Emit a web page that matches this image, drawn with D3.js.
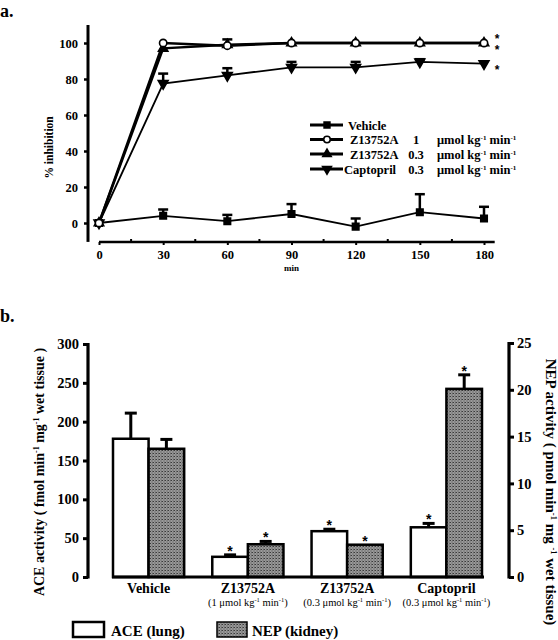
<!DOCTYPE html>
<html><head><meta charset="utf-8">
<script src="https://cdn.jsdelivr.net/npm/d3@7"></script>
<style>
body{margin:0;background:#fff;}
svg{display:block;font-family:"Liberation Serif","Times New Roman",serif;}
</style></head>
<body><svg id="c" width="558" height="640"></svg>
<script>
// ---- Panel a data ----
const timePoints = [0, 30, 60, 90, 120, 150, 180];
const vehicle    = [0, 4, 1, 5, -2, 6, 2.5];
const vehicleErr = [0, 3.5, 3.5, 5.5, 4.5, 10, 6.5];
const z1         = [0, 100, 98.5, 100, 100, 100, 100];
const z1Err      = [0, 0, 3.5, 0, 0, 0, 0];
const z03        = [0, 97, 99, 100, 100, 100, 100];
const z03Err     = [0, 0, 0, 0, 0, 0, 0];
const capt       = [0, 77.5, 82, 86.5, 86.5, 89.5, 88.5];
const captErr    = [0, 5.5, 4, 3, 3, 1.5, 0];
const yTicksA    = [0, 20, 40, 60, 80, 100];
const xTicksA    = [0, 30, 60, 90, 120, 150, 180];
const seriesNames = ["Vehicle", "Z13752A", "Z13752A", "Captopril"];
const seriesDoses = ["", "1", "0.3", "0.3"];

// ---- Panel b data ----
const categories = ["Vehicle", "Z13752A", "Z13752A", "Captopril"];
const subLabels  = ["", "1", "0.3", "0.3"];
const ace        = [178, 26, 59, 64];
const aceErr     = [33, 2.5, 2.5, 5];
const aceSig     = [false, true, true, true];
const nep        = [13.7, 3.5, 3.45, 20.1];
const nepErr     = [1.0, 0.3, 0, 1.5];
const nepSig     = [false, true, true, true];
const yTicksL    = [0, 50, 100, 150, 200, 250, 300];
const yTicksR    = [0, 5, 10, 15, 20, 25];

const svg = d3.select("#c");
const defs = svg.append("defs");
const pat = defs.append("pattern").attr("id","hatch").attr("patternUnits","userSpaceOnUse")
  .attr("width",3).attr("height",3);
pat.append("rect").attr("width",3).attr("height",3).attr("fill","#9a9a9a");
pat.append("rect").attr("x",0).attr("y",0).attr("width",1).attr("height",1).attr("fill","#3a3a3a");
pat.append("rect").attr("x",1.5).attr("y",1.5).attr("width",1).attr("height",1).attr("fill","#4a4a4a");
pat.append("rect").attr("x",2).attr("y",0).attr("width",1).attr("height",1).attr("fill","#666");

// panel labels
svg.append("text").attr("x",0).attr("y",17).attr("font-size",18).attr("font-weight","bold").text("a.");
svg.append("text").attr("x",0).attr("y",322).attr("font-size",18).attr("font-weight","bold").text("b.");

// ================= Panel a =================
const xA = d3.scaleLinear().domain([0,180]).range([99,484]);
const yA = d3.scaleLinear().domain([0,100]).range([223,43]);
const gA = svg.append("g");

gA.append("line").attr("x1",88).attr("x2",88).attr("y1",yA(110)).attr("y2",yA(-10.5))
  .attr("stroke","#000").attr("stroke-width",3);
const yAxA = d3.axisLeft(yA).tickValues(yTicksA).tickSize(4).tickPadding(6);
const gyA = gA.append("g").attr("transform","translate(88,0)").call(yAxA);
gyA.select(".domain").remove();
gyA.selectAll(".tick line").attr("stroke-width",2.5);
gyA.selectAll("text").attr("font-size",12.5).attr("font-weight","bold").attr("font-family","Liberation Serif");

const xAxisY = 242;
gA.append("line").attr("x1",xA(0)).attr("x2",xA(185)).attr("y1",xAxisY).attr("y2",xAxisY)
  .attr("stroke","#000").attr("stroke-width",2.5);
const xAxA = d3.axisBottom(xA).tickValues(xTicksA).tickSize(3).tickPadding(5);
const gxA = gA.append("g").attr("transform",`translate(0,${xAxisY})`).call(xAxA);
gxA.select(".domain").remove();
gxA.selectAll(".tick line").attr("stroke-width",2);
gxA.selectAll("text").attr("font-size",12.5).attr("font-weight","bold").attr("font-family","Liberation Serif");
gA.selectAll(".minor").data(d3.range(15,181,30)).enter().append("line")
  .attr("x1",d=>xA(d)).attr("x2",d=>xA(d)).attr("y1",xAxisY).attr("y2",xAxisY-3)
  .attr("stroke","#000").attr("stroke-width",2);
gA.append("text").attr("x",xA(90)).attr("y",271).attr("text-anchor","middle")
  .attr("font-size",9).attr("font-weight","bold").text("min");
gA.append("text").attr("transform",`translate(53,${yA(42)}) rotate(-90)`).attr("text-anchor","middle")
  .attr("font-size",11.5).attr("font-weight","bold").text("% inhibition");

const line = d3.line().x((d,i)=>xA(timePoints[i])).y(d=>yA(d));
function symbolPath(type, size){
  return d3.symbol().type(type).size(size)();
}
const triDown = {draw(ctx,size){const s=Math.sqrt(size/ (Math.sqrt(3)/4)); const h=s*Math.sqrt(3)/2;
  ctx.moveTo(-s/2,-h/3); ctx.lineTo(s/2,-h/3); ctx.lineTo(0,2*h/3); ctx.closePath();}};
const triUp = {draw(ctx,size){const s=Math.sqrt(size/ (Math.sqrt(3)/4)); const h=s*Math.sqrt(3)/2;
  ctx.moveTo(-s/2,h/3); ctx.lineTo(s/2,h/3); ctx.lineTo(0,-2*h/3); ctx.closePath();}};

const seriesA = [
  {vals:vehicle, err:vehicleErr, sym:d3.symbolSquare, size:42, fill:"#000"},
  {vals:z1, err:z1Err, sym:d3.symbolCircle, size:42, fill:"#fff"},
  {vals:z03, err:z03Err, sym:triUp, size:38, fill:"#000"},
  {vals:capt, err:captErr, sym:triDown, size:42, fill:"#000"}
];
seriesA.forEach((s,k)=>{
  gA.append("path").attr("d",line(s.vals)).attr("fill","none").attr("stroke","#000")
    .attr("stroke-width", k===3||k===0 ? 1.8 : 2.4);
  s.vals.forEach((v,i)=>{
    if(s.err[i]>0){
      const x=xA(timePoints[i]), y0=yA(v), y1=yA(v+s.err[i]);
      gA.append("line").attr("x1",x).attr("x2",x).attr("y1",y0).attr("y2",y1).attr("stroke","#000").attr("stroke-width",2.5);
      gA.append("line").attr("x1",x-5).attr("x2",x+5).attr("y1",y1).attr("y2",y1).attr("stroke","#000").attr("stroke-width",2.5);
    }
  });
});
[3,2,0,1].forEach(k=>{
  const s=seriesA[k];
  gA.selectAll(null).data(s.vals).enter().append("path")
    .attr("transform",(d,i)=>`translate(${xA(timePoints[i])},${yA(d)})`)
    .attr("d",symbolPath(s.sym,s.size)).attr("fill",s.fill).attr("stroke","#000").attr("stroke-width",1.6);
});
const starX = xA(180)+13;
gA.append("text").attr("x",starX).attr("y",yA(z1[6])-11)
  .attr("font-size",12).attr("font-family","Liberation Sans").attr("font-weight","bold").attr("fill","#000")
  .style("writing-mode","vertical-rl").style("text-orientation","upright")
  .attr("letter-spacing",-3).text("**");
gA.append("text").attr("x",starX).attr("y",yA(capt[6])+10).attr("text-anchor","middle")
  .attr("font-size",12).attr("font-family","Liberation Sans").attr("font-weight","bold").attr("fill","#000").text("*");

// legend a
const legRows = [125,139.5,154,169];
const unitsText = (sel)=>{
  sel.append("tspan").text("μmol kg");
  sel.append("tspan").attr("font-size",7).attr("dy",-4).text("-1");
  sel.append("tspan").attr("dy",4).text(" min");
  sel.append("tspan").attr("font-size",7).attr("dy",-4).text("-1");
};
seriesA.forEach((s,k)=>{
  const y=legRows[k];
  gA.append("line").attr("x1",310).attr("x2",343).attr("y1",y).attr("y2",y).attr("stroke","#000").attr("stroke-width",3);
  gA.append("path").attr("transform",`translate(327,${y})`).attr("d",symbolPath(s.sym,s.size*0.8))
    .attr("fill",s.fill).attr("stroke","#000").attr("stroke-width",1.6);
  const nx = k===0?348:(k===3?344:350);
  gA.append("text").attr("x",nx).attr("y",y+4.5).attr("font-size",12.5).attr("font-weight","bold").text(seriesNames[k]);
  if(seriesDoses[k]){
    gA.append("text").attr("x",416).attr("y",y+4.5).attr("text-anchor","middle").attr("font-size",12.5).attr("font-weight","bold").text(seriesDoses[k]);
    gA.append("text").attr("x",437).attr("y",y+4.5).attr("font-size",12.5).attr("font-weight","bold").call(unitsText);
  }
});

// ================= Panel b =================
const gB = svg.append("g");
const yL = d3.scaleLinear().domain([0,300]).range([577,344]);
const yR = d3.scaleLinear().domain([0,25]).range([577,343]);
const x0 = d3.scaleBand().domain(d3.range(categories.length)).range([113,482]).paddingInner(0.283);
const x1 = d3.scaleBand().domain([0,1]).range([0,x0.bandwidth()]);

categories.forEach((c,i)=>{
  const bx = x0(i);
  gB.append("rect").attr("x",bx+x1(0)).attr("y",yL(ace[i])).attr("width",x1.bandwidth()).attr("height",yL(0)-yL(ace[i]))
    .attr("fill","#fff").attr("stroke","#000").attr("stroke-width",2.5);
  gB.append("rect").attr("x",bx+x1(1)).attr("y",yR(nep[i])).attr("width",x1.bandwidth()).attr("height",yR(0)-yR(nep[i]))
    .attr("fill","url(#hatch)").attr("stroke","#000").attr("stroke-width",2.5);
  const errs = [[bx+x1(0)+x1.bandwidth()/2, yL(ace[i]), yL(ace[i]+aceErr[i]), aceSig[i]],
                [bx+x1(1)+x1.bandwidth()/2, yR(nep[i]), yR(nep[i]+nepErr[i]), nepSig[i]]];
  errs.forEach(([cx,y0,y1,sig])=>{
    if(y0-y1>0.5){
      gB.append("line").attr("x1",cx).attr("x2",cx).attr("y1",y0).attr("y2",y1).attr("stroke","#000").attr("stroke-width",3);
      gB.append("line").attr("x1",cx-6).attr("x2",cx+6).attr("y1",y1).attr("y2",y1).attr("stroke","#000").attr("stroke-width",3);
    }
    if(sig){
      gB.append("text").attr("x",cx).attr("y",y1+1).attr("text-anchor","middle").attr("font-size",14)
        .attr("font-family","Liberation Sans").attr("font-weight","bold").attr("fill","#000").text("*");
    }
  });
});
gB.append("line").attr("x1",112).attr("x2",484).attr("y1",577).attr("y2",577).attr("stroke","#000").attr("stroke-width",3);

gB.append("line").attr("x1",88).attr("x2",88).attr("y1",yL(300)-1).attr("y2",yL(0)+1.5).attr("stroke","#000").attr("stroke-width",3.2);
const gL = gB.append("g").attr("transform","translate(88,0)").call(d3.axisLeft(yL).tickValues(yTicksL).tickSize(5).tickPadding(4));
gL.select(".domain").remove();
gL.selectAll(".tick line").attr("stroke-width",3);
gL.selectAll("text").attr("font-size",14.5).attr("font-weight","bold").attr("font-family","Liberation Serif");
gB.append("line").attr("x1",509).attr("x2",509).attr("y1",yR(25)-1).attr("y2",yR(0)+1.5).attr("stroke","#000").attr("stroke-width",3.2);
const gR = gB.append("g").attr("transform","translate(509,0)").call(d3.axisRight(yR).tickValues(yTicksR).tickSize(5).tickPadding(3));
gR.select(".domain").remove();
gR.selectAll(".tick line").attr("stroke-width",3);
gR.selectAll("text").attr("font-size",14.5).attr("font-weight","bold").attr("font-family","Liberation Serif");

const tL = gB.append("text").attr("transform",`translate(44,472) rotate(-90)`).attr("text-anchor","middle")
  .attr("font-size",14).attr("font-weight","bold");
tL.append("tspan").text("ACE activity ( fmol min");
tL.append("tspan").attr("font-size",8).attr("dy",-5).text("-1");
tL.append("tspan").attr("dy",5).text(" mg");
tL.append("tspan").attr("font-size",8).attr("dy",-5).text("-1");
tL.append("tspan").attr("dy",5).text(" wet tissue )");
const tR = gB.append("text").attr("transform",`translate(546,492) rotate(90)`).attr("text-anchor","middle")
  .attr("font-size",15).attr("font-weight","bold");
tR.append("tspan").text("NEP activity ( pmol min");
tR.append("tspan").attr("font-size",8.5).attr("dy",-5).text("-1");
tR.append("tspan").attr("dy",5).text(" mg ");
tR.append("tspan").attr("font-size",8.5).attr("dy",-5).text("-1");
tR.append("tspan").attr("dy",5).text(" wet tissue)");

categories.forEach((c,i)=>{
  const cx = x0(i)+x0.bandwidth()/2;
  gB.append("text").attr("x",cx).attr("y",593).attr("text-anchor","middle").attr("font-size",14).attr("font-weight","bold").text(c);
  if(subLabels[i]){
    const t = gB.append("text").attr("x",cx).attr("y",606).attr("text-anchor","middle").attr("font-size",10.5);
    t.append("tspan").text("(" + subLabels[i] + " μmol kg");
    t.append("tspan").attr("font-size",6.5).attr("dy",-4).text("-1");
    t.append("tspan").attr("dy",4).text(" min");
    t.append("tspan").attr("font-size",6.5).attr("dy",-4).text("-1");
    t.append("tspan").attr("dy",4).text(")");
  }
});

gB.append("rect").attr("x",73).attr("y",622).attr("width",31).attr("height",15).attr("fill","#fff").attr("stroke","#000").attr("stroke-width",2.5);
gB.append("text").attr("x",111).attr("y",636).attr("font-size",15).attr("font-weight","bold").text("ACE (lung)");
gB.append("rect").attr("x",217).attr("y",622).attr("width",30).attr("height",15).attr("fill","url(#hatch)").attr("stroke","#000").attr("stroke-width",1.5);
gB.append("text").attr("x",252).attr("y",636).attr("font-size",15).attr("font-weight","bold").text("NEP (kidney)");
</script></body></html>
